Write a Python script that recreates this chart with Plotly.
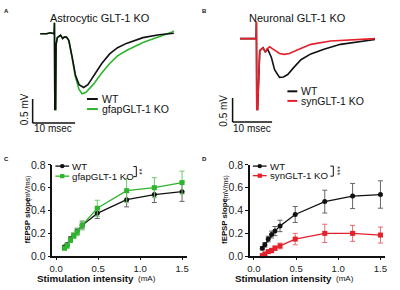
import plotly.graph_objects as go

# ---------------- data ----------------
# Panel A traces (time ms, voltage mV)
a_wt_t = [0, 1.47, 2.4, 2.93, 3.28, 3.35, 3.44, 3.63, 3.74, 4.02, 4.79, 5.3, 5.65, 6.19, 6.74, 7.51, 8.28,
          9.14, 10.23, 11.23, 12.56, 14.49, 16.35, 18.21, 20.3, 24.19, 27.98, 31.47]
a_wt_v = [0, 0, 0.02, 0.01, 0, 0.23, -1.58, -1.58, -0.22, -0.08, -0.03, -0.1, -0.07, -0.07, -0.14, -0.48, -0.86,
          -1.06, -1.12, -1.06, -0.88, -0.62, -0.42, -0.29, -0.2, -0.08, -0.02, 0.01]
a_ko_t = [0, 1.47, 2.4, 2.93, 3.28, 3.35, 3.44, 3.63, 3.74, 4.02, 4.79, 5.3, 5.65, 6.19, 6.74, 7.51, 8.28,
          9.14, 9.84, 10.77, 12.56, 14.49, 16.35, 18.21, 20.3, 24.19, 27.98, 30.3, 30.9, 31.47]
a_ko_v = [0, 0, 0.02, 0.01, 0, 0.23, -1.58, -1.58, -0.22, -0.08, -0.03, -0.1, -0.07, -0.07, -0.14, -0.5, -0.9,
          -1.16, -1.25, -1.22, -1.05, -0.82, -0.62, -0.46, -0.35, -0.18, -0.07, 0.0, 0.03, 0.06]

# Panel B traces
b_wt_t = [0, 2, 4.08, 4.15, 4.25, 4.45, 5, 5.83, 6.43, 6.93, 7.93, 8.75, 10, 11, 12.08, 13.75, 15.43,
          17.93, 21.25, 25.43, 29.5, 34.18]
b_wt_v = [0, 0, 0, 0.35, -1.48, -1.48, -0.25, -0.19, -0.28, -0.21, -0.39, -0.65, -0.81, -0.8, -0.75, -0.59, -0.44,
          -0.32, -0.22, -0.12, -0.07, -0.02]
b_ko_t = [0, 2, 4.08, 4.15, 4.25, 4.45, 5, 5.83, 6.43, 6.93, 7.5, 8.75, 10, 11.25, 12.5, 14.5, 17.93,
          22.93, 29.5, 34.18]
b_ko_v = [0, 0, 0, 0.35, -1.48, -1.48, -0.25, -0.19, -0.28, -0.21, -0.17, -0.24, -0.31, -0.33, -0.31, -0.24, -0.12,
          -0.05, -0.02, 0]

# Panels C/D input-output
stim = [0.1, 0.13, 0.17, 0.21, 0.25, 0.31, 0.49, 0.84, 1.17, 1.5]
c_wt = [0.08, 0.10, 0.15, 0.18, 0.22, 0.27, 0.375, 0.495, 0.54, 0.565]
c_wt_err = [0.015, 0.015, 0.02, 0.02, 0.025, 0.03, 0.045, 0.063, 0.07, 0.085]
c_ko = [0.07, 0.09, 0.14, 0.18, 0.21, 0.27, 0.42, 0.574, 0.60, 0.645]
c_ko_err = [0.015, 0.02, 0.02, 0.025, 0.03, 0.04, 0.07, 0.105, 0.087, 0.1]
d_wt = [0.07, 0.10, 0.15, 0.19, 0.22, 0.265, 0.365, 0.478, 0.527, 0.54]
d_wt_err = [0.015, 0.02, 0.025, 0.03, 0.04, 0.05, 0.07, 0.1, 0.11, 0.12]
d_ko = [0.005, 0.02, 0.04, 0.05, 0.07, 0.09, 0.15, 0.20, 0.20, 0.185]
d_ko_err = [0.01, 0.01, 0.015, 0.02, 0.02, 0.025, 0.05, 0.08, 0.07, 0.07]

x_ticks = [0, 0.5, 1.0, 1.5]
x_ticktext = ["0.0", "0.5", "1.0", "1.5"]
y_ticks = [0, 0.2, 0.4, 0.6, 0.8]
y_ticktext = ["0.0", "0.2", "0.4", "0.6", "0.8"]

BLACK = "#111111"
GREEN = "#2db52d"
RED = "#e4202a"
FONT = "Arial, Liberation Sans, sans-serif"

W, H = 400, 290
def px(x): return x / W
def py(y): return 1 - y / H

fig = go.Figure()

# Traces A
fig.add_trace(go.Scatter(x=a_ko_t, y=a_ko_v, mode="lines", line=dict(color=GREEN, width=1.6),
                         xaxis="x", yaxis="y", showlegend=False))
fig.add_trace(go.Scatter(x=a_wt_t, y=a_wt_v, mode="lines", line=dict(color=BLACK, width=1.6),
                         xaxis="x", yaxis="y", showlegend=False))
# Traces B
fig.add_trace(go.Scatter(x=b_wt_t, y=b_wt_v, mode="lines", line=dict(color=BLACK, width=1.6),
                         xaxis="x2", yaxis="y2", showlegend=False))
fig.add_trace(go.Scatter(x=b_ko_t, y=b_ko_v, mode="lines", line=dict(color=RED, width=1.6),
                         xaxis="x2", yaxis="y2", showlegend=False))

def io_trace(y, err, color, ecolor, symbol, xa, ya):
    return go.Scatter(x=stim, y=y, mode="lines+markers",
                      line=dict(color=color, width=1.3),
                      marker=dict(color=color, size=5, symbol=symbol),
                      error_y=dict(type="data", array=err, color=ecolor, thickness=1, width=2.5),
                      xaxis=xa, yaxis=ya, showlegend=False, cliponaxis=False)

fig.add_trace(io_trace(c_wt, c_wt_err, BLACK, "#666666", "circle", "x3", "y3"))
fig.add_trace(io_trace(c_ko, c_ko_err, GREEN, "#6cc86c", "square", "x3", "y3"))
fig.add_trace(io_trace(d_wt, d_wt_err, BLACK, "#666666", "circle", "x4", "y4"))
fig.add_trace(io_trace(d_ko, d_ko_err, RED, "#e86a70", "square", "x4", "y4"))

hidden = dict(visible=False, showgrid=False, zeroline=False)
io_x = dict(showline=True, linecolor=BLACK, linewidth=1.5, ticks="outside", ticklen=2.5, tickwidth=1.3,
            tickcolor=BLACK, tickvals=x_ticks, ticktext=x_ticktext, showgrid=False, zeroline=False,
            tickfont=dict(family=FONT, size=9.6, color="#222222"))
io_y = dict(showline=True, linecolor=BLACK, linewidth=1.5, ticks="outside", ticklen=3, tickwidth=1.3,
            tickcolor=BLACK, tickvals=y_ticks, ticktext=y_ticktext, showgrid=False, zeroline=False,
            range=[0, 0.8], tickfont=dict(family=FONT, size=10.5, color="#222222"))

fig.update_layout(
    width=W, height=H, margin=dict(l=0, r=0, t=0, b=0),
    paper_bgcolor="white", plot_bgcolor="rgba(0,0,0,0)",
    xaxis=dict(domain=[px(25), px(180)], range=[-2.953, 33.093], anchor="y", **hidden),
    yaxis=dict(domain=[py(130), py(10)], range=[-2.02, 0.38], anchor="x", **hidden),
    xaxis2=dict(domain=[px(225), px(385)], range=[-3.75, 36.25], anchor="y2", **hidden),
    yaxis2=dict(domain=[py(130), py(10)], range=[-1.92, 0.48], anchor="x2", **hidden),
    xaxis3=dict(domain=[px(50), px(186)], range=[-0.045, 1.555], anchor="y3", **io_x),
    yaxis3=dict(domain=[py(261), py(165.7)], anchor="x3", **io_y),
    xaxis4=dict(domain=[px(250.2), px(386.5)], range=[-0.045, 1.55], anchor="y4", **io_x),
    yaxis4=dict(domain=[py(261), py(165.7)], anchor="x4", **io_y),
    font=dict(family=FONT, color="#111111"),
)

shapes = []
annots = []

def text(x, y, s, size, angle=0, xanchor="center", bold=False, color="#111111"):
    annots.append(dict(x=px(x), y=py(y), xref="paper", yref="paper", text=("<b>%s</b>" % s) if bold else s,
                       showarrow=False, xanchor=xanchor, yanchor="middle", textangle=angle,
                       borderpad=0, font=dict(family=FONT, size=size, color=color)))

def pline(x0, y0, x1, y1, color, width):
    shapes.append(dict(type="line", xref="paper", yref="paper", x0=px(x0), y0=py(y0), x1=px(x1), y1=py(y1),
                       line=dict(color=color, width=width)))

# Scale bars (data coords of trace axes: 10 ms x 0.5 mV)
for xa, ya, t0, v0 in [("x", "y", -1.79, -1.86), ("x2", "y2", -1.875, -1.74)]:
    shapes.append(dict(type="line", xref=xa, yref=ya, x0=t0, y0=v0, x1=t0, y1=v0 + 0.5,
                       line=dict(color=BLACK, width=1.5)))
    shapes.append(dict(type="line", xref=xa, yref=ya, x0=t0, y0=v0, x1=t0 + 10, y1=v0,
                       line=dict(color=BLACK, width=1.5)))

# Titles & panel letters
text(98, 13, "Astrocytic GLT-1 KO", 11)
text(298, 13, "Neuronal GLT-1 KO", 11)
text(4, 5, "A", 6, bold=True)
text(204, 5, "B", 6, bold=True)
text(4, 160, "C", 6, bold=True)
text(204, 160, "D", 6, bold=True)

# scale labels
text(22, 108, "0.5 mV", 10, angle=-90)
text(51, 128, "10 msec", 10)
text(223, 109, "0.5 mV", 10, angle=-90)
text(252, 128, "10 msec", 10)

# Trace legends
pline(85, 97, 96, 97, BLACK, 2)
text(99, 97, "WT", 10.5, xanchor="left")
pline(85, 107.5, 96, 107.5, GREEN, 2)
text(99, 107.5, "gfapGLT-1 KO", 10.5, xanchor="left")
pline(288, 89, 298, 89, BLACK, 2)
text(301, 89, "WT", 10.5, xanchor="left")
pline(288, 99, 298, 99, RED, 2)
text(301, 99, "synGLT-1 KO", 10.5, xanchor="left")

# IO legends
def leg_item(x0, y, color, sym, label):
    pline(x0, y, x0 + 14, y, color, 1.3)
    cx = x0 + 7
    if sym == "circle":
        shapes.append(dict(type="circle", xref="paper", yref="paper", x0=px(cx - 2.3), x1=px(cx + 2.3),
                           y0=py(y + 2.3), y1=py(y - 2.3), fillcolor=color, line=dict(width=0)))
    else:
        shapes.append(dict(type="rect", xref="paper", yref="paper", x0=px(cx - 2.2), x1=px(cx + 2.2),
                           y0=py(y + 2.2), y1=py(y - 2.2), fillcolor=color, line=dict(width=0)))
    text(x0 + 16, y, label, 9.7, xanchor="left")

leg_item(53, 167, BLACK, "circle", "WT")
leg_item(53, 177.5, GREEN, "square", "gfapGLT-1 KO")
leg_item(253, 167, BLACK, "circle", "WT")
leg_item(253, 177, RED, "square", "synGLT-1 KO")

# significance brackets
def bracket(x, y0, y1):
    shapes.append(dict(type="path", xref="paper", yref="paper",
                       path="M %f %f L %f %f L %f %f L %f %f" % (px(x - 3), py(y0), px(x), py(y0),
                                                                  px(x), py(y1), px(x - 3), py(y1)),
                       line=dict(color=BLACK, width=1)))
bracket(135, 167.5, 178)
text(138.5, 172.5, "**", 8, angle=90)
bracket(334.5, 167, 177.5)
text(338, 172, "***", 8, angle=90)

# axis titles
for dx in (0, 200):
    text(25 + dx, 224, "fEPSP slope", 7.8, angle=-90, bold=True)
    text(25.5 + dx, 190, "(mV/ms)", 6.8, angle=-90)
    text(84 + dx, 284, "Stimulation intensity", 9.8, bold=True)
    text(136 + dx, 284, "(mA)", 8, xanchor="left")

fig.update_layout(shapes=shapes, annotations=annots)
fig.write_html("out.html", config={"displayModeBar": False},
               post_script="document.body.style.margin='0';document.documentElement.style.overflow='hidden';")
